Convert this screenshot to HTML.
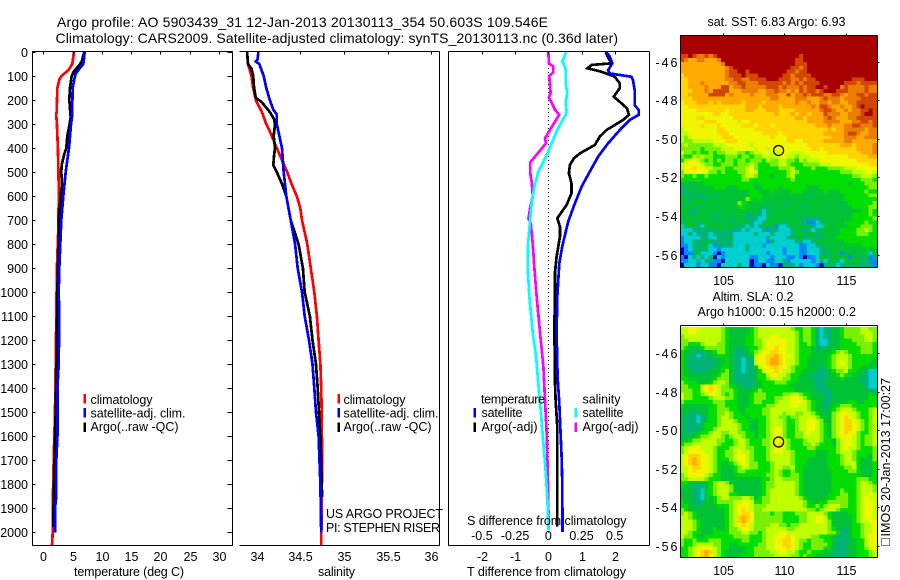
<!DOCTYPE html>
<html lang="en">
<head>
<meta charset="utf-8">
<title>Argo profile 5903439_31</title>
<style>
html,body{margin:0;padding:0;background:#fff;}
#chart{display:block;width:900px;height:580px;font-family:"Liberation Sans",sans-serif;fill:#000;}
#chart text{font-size:12.5px;}
</style>
</head>
<body>
<svg id="chart" xmlns="http://www.w3.org/2000/svg" width="900" height="580" viewBox="0 0 900 580"></svg>
<script>
/* ---------- depth ticks ---------- */
const depthTicks = [0,100,200,300,400,500,600,700,800,900,1000,1100,1200,1300,1400,1500,1600,1700,1800,1900,2000];
const tempTicks = [0,5,10,15,20,25,30];
const salTicks = [34,34.5,35,35.5,36];
const salTickLabels = ['34','34.5','35','35.5','36'];
const tDiffTicks = [-2,-1,0,1,2];
const sDiffTicks = [-0.5,-0.25,0,0.25,0.5];
const sDiffLabels = ['-0.5','-0.25','0','0.25','0.5'];
const lonTicks = [105,110,115];
const latTicks = [-46,-48,-50,-52,-54,-56];

/* ---------- temperature profiles ---------- */
const tempClimDepth = [0,50,75,100,115,150,250,260,300,400,500,600,750,900,1000,1200,1500,1700,1900,2000,2055];
const tempClimValue = [5.24,4.96,4.3,3.1,2.74,2.4,2.28,2.2,2.33,2.5,2.6,2.65,2.55,2.33,2.28,2.17,2.0,1.78,1.6,1.6,1.49];
const tempSatDepth = [0,50,70,90,120,150,270,300,400,450,500,600,700,800,900,1000,1100,1300,1400,1600,1700,1850,1900,2000];
const tempSatValue = [7.07,6.84,6.15,5.53,5.24,5.02,4.9,4.73,4.39,4.1,3.82,3.42,3.08,2.9,2.74,2.63,2.74,2.63,2.4,2.4,2.22,2.22,2.0,2.0];
const tempArgoDepth = [0,40,60,80,100,150,200,270,300,350,400,430,470,500,550,600,700,800,900,1000,1300,1500,1750,1950,1977];
const tempArgoValue = [7.0,6.55,5.98,5.24,4.85,4.56,4.44,4.68,4.5,4.1,3.93,3.54,3.14,3.08,3.19,2.97,2.63,2.63,2.5,2.4,2.28,2.12,1.88,1.71,1.71];

/* ---------- salinity profiles ---------- */
const salClimDepth = [0,50,100,150,200,250,300,330,400,450,500,550,600,650,700,800,900,1000,1100,1200,1300,1400,1500,1700,1900,2055];
const salClimValue = [33.89,33.9,33.94,33.96,33.99,34.06,34.11,34.15,34.23,34.29,34.35,34.4,34.46,34.5,34.52,34.58,34.62,34.66,34.69,34.71,34.73,34.74,34.745,34.75,34.745,34.74];
const salSatDepth = [0,30,40,50,100,150,200,240,260,300,400,500,600,700,800,900,1000,1100,1200,1300,1400,1500,1600,1700,1800,2000];
const salSatValue = [34.02,34.01,33.99,34.03,34.08,34.11,34.15,34.19,34.23,34.23,34.29,34.31,34.34,34.39,34.44,34.47,34.52,34.55,34.6,34.64,34.66,34.68,34.71,34.72,34.73,34.74];
const salArgoDepth = [0,50,70,100,150,190,210,250,280,300,350,400,430,470,500,550,600,700,800,900,1000,1100,1200,1300,1400,1500,1600,1853];
const salArgoValue = [33.89,33.9,33.94,33.96,33.97,33.99,34.06,34.15,34.2,34.21,34.195,34.21,34.2,34.19,34.23,34.29,34.34,34.39,34.48,34.53,34.55,34.61,34.64,34.68,34.7,34.715,34.73,34.75];

/* ---------- difference profiles ---------- */
const dTSatDepth = [0,19,47,75,89,103,117,158,221,241,262,283,325,380,436,498,561,630,706,810,880,1019,1171,1352,1463,1588,1685,1781,1999];
const dTSatValue = [1.75,1.85,1.93,1.8,1.85,2.5,2.55,2.6,2.6,2.72,2.72,2.45,2.15,1.8,1.5,1.25,1.0,0.8,0.6,0.42,0.33,0.27,0.25,0.28,0.33,0.37,0.4,0.42,0.43];
const dTArgoDepth = [0,47,54,68,82,103,130,151,186,207,235,262,283,325,352,387,422,443,470,505,547,588,637,692,727,769,852,921,1019,1171,1268,1365,1449,1560,1976];
const dTArgoValue = [1.72,1.9,1.3,1.18,1.6,2.0,2.15,2.15,1.97,2.15,2.37,2.43,2.25,1.75,1.55,1.4,0.95,0.77,0.65,0.62,0.7,0.7,0.55,0.27,0.35,0.35,0.25,0.2,0.2,0.18,0.2,0.2,0.22,0.27,0.27];
const dSSatDepth = [0,25,40,50,75,130,170,210,240,262,290,325,380,430,500,560,630,700,800,900,1020,1171,1268,1380,1490,1629,1727,1865,1990];
const dSSatValue = [0.132,0.117,0.105,0.117,0.132,0.132,0.142,0.132,0.137,0.132,0.1,0.067,0.025,-0.012,-0.075,-0.105,-0.125,-0.137,-0.152,-0.155,-0.142,-0.117,-0.092,-0.075,-0.057,-0.037,-0.022,-0.007,0.002];
const dSArgoDepth = [0,47,60,85,100,130,170,190,210,240,262,290,325,360,380,410,460,500,540,600,650,695,715,800,900,1020,1171,1310,1449,1588,1727,1865,1990];
const dSArgoValue = [0,0.005,0.037,0.037,0.007,0.012,0.017,0.005,0.025,0.05,0.082,0.05,0.012,-0.025,-0.017,-0.062,-0.137,-0.137,-0.125,-0.117,-0.137,-0.15,-0.132,-0.117,-0.105,-0.087,-0.062,-0.037,-0.025,-0.012,-0.005,0,0.002];

/* ---------- map grids: one letter per cell, a (coldest/lowest) to n (warmest/highest) ---------- */
const sstRows = [
"nnnnnn nnnnnn nnnnnn nnnnnn nnnnnn nnnnnn nnnnnn nnnnnn",
"nnnnnn nnnnnn nnnnnn nnnnnn nnnnnn nnnnnn nnnnnn nnnnnn",
"nnnnnn nnnnnn nnnnnn nnnnnn nnnnnn nnnnnn nnnnnn nnnnnn",
"nnnnnn nnnnnn nnnnnn nnnnnn nnnnnn nnnnnn nnnnnn nnnnnn",
"nnnnnn nnnnnn nnnnnn nnnnnn nnnnnn nnnnnn nnnnnn nnnnnn",
"mmnmll mlmnnn nnnnnn nnnnnn nnnnnm nnnnnn nnnnnn nnnnnn",
"mlkkll kkklnn nnnnnn nnnnnn nnnnmm nnnnnn nnnnnn nnnnnn",
"kkkkkk kkkkln nnnnnn nnnnnn nnnnmm mnnnnn nnnnnn nnnnnn",
"kkkkkk kkkkkl mnnnnn nnnnnn nnnmml mnnnnn nnnnnn nnnnnn",
"kkkkkk kkkkkl mmnnmn nnnnnn nnmmlm mnnnnn nnnnnn nnnnnn",
"jkkkkk kkkkkl mmmnmm mnnnnn nmmlmm mmnnnn nnnnnn nnnnnn",
"jjkkkk kkkkkl lmmllm mmmnnn mmmllm lmmnnn nnnnnn mmmnnn",
"jjkkkl kkkkkk llmmll lmmmmm mlmlml mmmmnn nnnnmm mlmmmm",
"jjkkkk lkkkmm kllmll lllmmm lmlllm lmmnnm nnnlml lllmll",
"jjjkkk lkmmmm kkklll lkkllm llklkm lmmlmn nnmmml lllmll",
"jjkkkk kmmmmk lkkkkl kkklll kkmkll mlmmml lmmlkl lmmlmm",
"jjjkkk kkkkkk kkkkkk kkkkll kkkkll lkkklm lllkll llmmmm",
"ijjjkk kjkjkk kkkjkk kkjkkk kkkklk klkkll kllkkl lmmmmm",
"iijjjj jjjjjj jjjjkk kjkkkk jkkkkk kklkmm lkklkk lmnmmm",
"iiiijj jjjjji jjjjkk jjjkkk jjjjkk kkkklm mlkklk llmmnm",
"iiiiii iijjii jjjjjj jjjjjk jjjkjk kjkkkm lllkkl llmnnm",
"iiiijj iiiiii ijjjjj jjjjjj jjjjkk jkkkkl mlkkkl lmmmmm",
"iiiiii jjjiii iijiij jjjjjj jjjjjj jkkkkl lllkkk llmmlm",
"iiiiij iiijii iiijjj ijjjij jjjjjj jjjkkk lkkkll mmlllm",
"hiiiii iiijji iiiiii jjjjjj jjjjjj jjjjjj kjkkll lllkll",
"hhiiii iiijjj iiiiii iijjjj ijjjjj jjjjjk kkkklm mlkkll",
"hghiii iiiijj jiiiii iiiiji iijjjj jjjjjj jkkkll lkklll",
"hgghhh hhiiij jjiiii iiiiii iijjii jjjjjk kkkkll kkkkkk",
"ghgggg gghhhi iiiiih iiiiii iiiiii ijjjjj jjjkkk jkkkkl",
"gggggf gggghh hiiiii hiihii iiiiii iijjij jjjjjj jkkkkl",
"hggfgf fgfggh hhggfg hhiihh iiihhh iiiiii jjjjjj jjkkkl",
"gffhgh ggfffg ggfggf gghhhh iihhgh hhiiii iiiiij jjjjkk",
"fhiihg fgfgfg gfggfg ggfhgg hhggfh ghhhii iiiiii ijjjjj",
"hiiiih ggffgg gfgggh gfffgg hhgfff gggghh hiiiii iiiijj",
"hiijii hhgggf fggghi gfffff ggghff ffgfff gggghh hiiiii",
"giiiii iggfgf ffgghi hfffff ffghgf ffffff fffggg hhhiih",
"gffgff gfffff fffghh gfffef ffghff ffffff ffffff gghhhg",
"ffffff ffffff fffggf ffffff fffgff ffffff ffffff ffgggf",
"dedeee ffffff ffffff efffff ffffff ffffff fffffe fffggg",
"deeeee eefffe eeffff eeffff efffff feeeff ffffff ffffgg",
"ddedee eeeeee eeeeef feeefe eeefff eeeeef eeefff fffgff",
"eededd eedeee eeeeef ffeeee eeeeee edeeee eeeeff ffffgg",
"eedeee deeeee eeeegf efeeee eeeeee eeeeee eeeeff ffffff",
"edeeee eeeeee eegfee eeeeee edeeee eeeeee eeeeef fffffg",
"eeeede eeeeee eeffee eedede eeeeee deeeee eeedee ffffgg",
"eeddee eeeede eeeeee edceee eeeeee eeeeee eeeeee eeffgf",
"eeedee edeeee eeeedd edcdee eeeeed eeeeee eeeeee ffffgf",
"eeeeee eeddee deeedd dcceee eeeeee ddddee eeeeee fffffg",
"deeede eeeeed edeeed ccdeee edeeed dbbcde eeeeff fffgff",
"ceeedc eeeeee eeddcd cdeeeb ccdeee eedcce eeeeef ffgggf",
"cccddd dddede dddcdc ccdbdd cccdee ddcdee eeefff fgghgf",
"ccdcdd dcdddd dccccc dcccdc cccdee deedee eeefff fgggff",
"bccccd dccdde dccccc cccdcc ccddee deddde eeffff ffffff",
"bccddd eddddd dccccc cccbdc ccccdd ccdeee eeeeff ffffff",
"bbcdde ecbddd dcccdc ccbccc cccccb bccdde eeeeee eeffff",
"abcddd dccbcc ccccdc cccccc cbcccb bcccdd eeeeee eeeeee",
"abbdec ccbabc cccccc cccbcc cbcccb bcccdd eeebee eeeece",
"bacdcd cdacbc cccccb bcccbc ccbbcb abbcee deeeeb eedebd",
"bbccdc ddbbac ccccca bccbbc cdbccc ccbcdc eedcee eedebb",
"acccbc cbbacc ccdcca bbacbb adddcb cccbad ddcddd dedddb"
];

const slaRows = [
"hhiiih hhhhgf eeeeef ghhhhh hhhgff ggfdcd deefgg gghhgg",
"hhiihh hhhhgf eeeeef ghhhhh hhhhgf ggfdcd deefgg gghhhg",
"ghhhhh hhhhgf eeeeff ghhhii hhhhgf ggfdcd deefgg ggghhg",
"gghhhh hhhhgf eeeeff gghiii iihhgf ggfdcc deefff ggghhg",
"ggfffg hhhggf eeeeff gghiii iihhgf fgfdcc deefff fggggf",
"gfeeef gggggf eedeef fghiij iihhgf ffeddd eeefff ffgggf",
"feeddd eefggf edddef ghiijj iihhgf ffeeee efghgf ffgggf",
"feddcd deeffe edddde hiijjk jiihgf ffeeee fghhhg ffffff",
"fedddd dddeef eddcdd hiijkk jihhgf feeeee fghhhg fffffe",
"fedddd dddeef eddcdd hiijkk jihhgf feeeee fghihg ffffee",
"fedddd ddeeff eddcdd ehiijj iihgff feeede fghhhg ffeeee",
"feeddd deeefg eddcdd efhiij ihhgff eeeddd efgghf feedcc",
"feeeee eeefgg eddddd effhii hhgffe eedddd eefgff eeedcc",
"ffeeee eefggg eddddd effghh hggffe eedddd eeefee eeddcc",
"gfffee efghhg eedddd eefffg ggffee eeedde eeeeee eeddcc",
"ggfffh ijihgg feeddd eeffff fffeee eeeddd eeeeee eeedcc",
"gggffh ijihgg gfeeee fgffff ffffee eeeddd deeeee eeeedd",
"hggffg hiihgf gfeeef gggfff fgghhg ffeeed deeeee eeeefe",
"hggfff fghhhg gfeeef gggffg ghhiih gfeeed deeeee eeeeff",
"gfffff ffgggf ffeeef ggfffg hhhiii hgfeed deeeef feefff",
"feeeee effggf ffeeef fffggh hhhiih hgfeed eefggg ffffff",
"eeeeee effggg ffeeff ffgghh hhhhhh hgfeed efghhh gfffgh",
"eeddde effggh gffeff ffgghh hghhgg hhgfee eghiih hgffgh",
"edddcd effghh gfffef fffghh ggfggh hhhgfe eghiji hgffgh",
"edddcd effghh hgfffe effghh hgffgh hiihge eghijj ihgfgh",
"edddde fffghh hhgffe effghh hgffgh hiihgf eghijj ihgfgh",
"edddde ffghhh hhgffe effghi igffgh hiihgf eghijj ihgfgh",
"eddeef fghhgg hhggff effghi igffgg hihhgf eghiji igffgh",
"eeeefg ghhhgf ghhgff effghi igffgg hhhhgf eghiii hgfggh",
"eefggh hhhggf fghhgf ffgghi ihgfff ghhhgf feghii hgfggh",
"fgghhh hhhgff fghhgf ffgghi jhgfff gghgff feghii hgfggh",
"ghiiih hhgfff ghhhgg fffghi ihgfff fggfff ffghih hgfffg",
"ghiiii hhgffg ghihhg fffghi ihhgff fffeee ffghhh gffffg",
"hijjji ihgffg ghiihg fffghh hhhgff fffeee fffghh gfffeg",
"hijkji ihgfff ghiihg fffghh hhhgff feeeee fffghh gfeeeg",
"hijkji ihgfee fghihg gfffgh hhhgff feeeee fffghh hfeeef",
"hhijji ihgfee efghhg gfffgh hgghff eeeeee ffffgg hfeeef",
"hhijii ihgfee efggff ffffgh gffgff eeeeee effffg gfeeef",
"ghiiii hgffee eeffff fffggh gffggf eeeeee efffff ffeeef",
"gghhhh gfffee eeeeee eeffgh hggggf eeeeee efffff fgggff",
"ffeeee efghhg eeeeee eefggh hhhhgf eeeeee efffff fghhgf",
"feeddd efghhh geeeee eefggh hhhhgf eeeeee efffff fghhhg",
"eeeddc efghhh geeeee eefghh hhhhgf eeeeee effgff fghhhg",
"eeeddc efghhh ffeeee eefghh hhhhgf eeeeee fffggf fghhih",
"eeeddc eefghh ggghhg efgghh hhhhhg feeeee ffgggf fghihh",
"feeddd eefggg ghhiih ffgghh hhhhhh gfeeff gggggf fghiih",
"ffeede eeefff ghiiih ggghhh hhhhhh gffgfg hhhggf fghiih",
"gfeeee eeeeef ghijih gghhhh hhhhhh hggfgh hhgfff fghiih",
"ghgfee eeeeef ghijji ggggfg gfffgg ghhhhg feeeef fghiih",
"hhgfee eeeeef ghjkji gggggg gffffg ghhiih feeeee fghiih",
"hhhgfe eeeeef ghjkji gggggg gffffg ghhiih geeeee fghhii",
"hhhgfe eeeeef ghijih gggghh ggfggh hhhhhh geeeee ffghhi",
"hhhgfe eefeef gghiih ggghhh hhgghh hhhhhh gfedde ffghhi",
"hhgffe eeffff ggghhg gfghhh iihhhh hhhhhh ggfdde ffghhi",
"hggfee ffffff fggggf ffghhi iijihh hhggff feddde ffghii",
"gffgff fgggff fffggf ffghhi ijjihg gfgggf feddde effhii",
"gffghh hhggff eeffff fgghhi ijjihg ffgggg feddde effhii",
"ffghii iihgff eeeeff ggghhi iijihg ffgggf feddde effghi",
"ffghij kjhgfe eeeeff gggghh iihhgf fgfffe edddde efffgh",
"ffghij kihgfe eeefff gggggh hhhggf gffeee edddde efffgh"
];

/* ---------- colour scale ---------- */
const levelColors = {a:'#0000b4',b:'#0088ff',c:'#00cfd0',d:'#00b478',e:'#00c234',f:'#00de00',g:'#78f000',h:'#c0ff00',i:'#f0f500',j:'#ffd400',k:'#ffaa00',l:'#eb7d00',m:'#d24600',n:'#a80000'};

/* ---------- axis functions ---------- */
function yDepth(d){return 52+0.2402*d;}
function xTemp(t){return 43.3+5.855*t;}
function xSal(s){return 256.7+87.2*(s-34);}
function xTDiff(t){return 548.3+33.2*t;}
function xSDiff(s){return xTDiff(s*4);}
function xLon(l){return 722.7+12.3*(l-105);}
function ySst(l){return 61.5+19.33*(-46-l);}
function ySla(l){return 353.4+19.25*(-46-l);}

const svg = document.getElementById('chart');
const NS = 'http://www.w3.org/2000/svg';

function makeEl(tag,name){
  const el = document.createElementNS(NS,tag);
  
  
  svg.appendChild(el);
  return el;
}
function seg(x1,y1,x2,y2,name,w){
  const el = makeEl('line',name);
  el.setAttribute('x1',x1);el.setAttribute('y1',y1);el.setAttribute('x2',x2);el.setAttribute('y2',y2);
  el.setAttribute('stroke','#000');el.setAttribute('stroke-width',w||1);el.setAttribute('shape-rendering','crispEdges');
  return el;
}
function box(x,y,w,h,color,name){
  const el = makeEl('rect',name);
  el.setAttribute('x',x);el.setAttribute('y',y);el.setAttribute('width',w);el.setAttribute('height',h);
  el.setAttribute('fill',color);el.setAttribute('shape-rendering','crispEdges');
  return el;
}
function txt(s,x,y,name,anchor,len){
  const el = makeEl('text',name);
  el.setAttribute('x',x);el.setAttribute('y',y);
  if(anchor) el.setAttribute('text-anchor',anchor);
  if(len) el.setAttribute('textLength',len);
  el.textContent = s;
  return el;
}
function profile(depths,values,xFn,color,name){
  const el = makeEl('polyline',name);
  const pts = depths.map(function(d,i){return xFn(values[i]).toFixed(1)+','+yDepth(d).toFixed(1);});
  el.setAttribute('points',pts.join(' '));
  el.setAttribute('fill','none');el.setAttribute('stroke',color);el.setAttribute('stroke-width',2.7);
  el.setAttribute('shape-rendering','crispEdges');el.setAttribute('stroke-linejoin','miter');
  return el;
}
function heatmap(rows,yFn,name){
  rows.forEach(function(row,r){
    const chars = row.replace(/[^a-n]/g,'');
    for(let c=0;c<chars.length;c++){
      const lonA = 101.53+c/3, lonB = lonA+1/3;
      const latA = -44.62-r*0.2, latB = latA-0.2;
      const cell = makeEl('rect',name);
      cell.setAttribute('x',xLon(lonA).toFixed(2));
      cell.setAttribute('y',yFn(latA).toFixed(2));
      cell.setAttribute('width',(xLon(lonB)-xLon(lonA)).toFixed(2));
      cell.setAttribute('height',(yFn(latB)-yFn(latA)).toFixed(2));
      cell.setAttribute('fill',levelColors[chars[c]]);
      cell.setAttribute('shape-rendering','crispEdges');
    }
  });
}

/* ---------- profile panels: series ---------- */
profile(tempClimDepth,tempClimValue,xTemp,'#ff0000','temperature-climatology-line');
profile(tempArgoDepth,tempArgoValue,xTemp,'#000000','temperature-argo-line');
profile(tempSatDepth,tempSatValue,xTemp,'#0000ff','temperature-satellite-line');

profile(salClimDepth,salClimValue,xSal,'#ff0000','salinity-climatology-line');
profile(salArgoDepth,salArgoValue,xSal,'#000000','salinity-argo-line');
profile(salSatDepth,salSatValue,xSal,'#0000ff','salinity-satellite-line');

const zeroLine = seg(xTDiff(0),yDepth(0),xTDiff(0),yDepth(2000),'zero-difference-line',1);
zeroLine.setAttribute('stroke-dasharray','1 3');
profile(dTArgoDepth,dTArgoValue,xTDiff,'#000000','t-diff-argo-line');
profile(dTSatDepth,dTSatValue,xTDiff,'#0000ff','t-diff-satellite-line');
profile(dSArgoDepth,dSArgoValue,xSDiff,'#ff00ff','s-diff-argo-line');
profile(dSSatDepth,dSSatValue,xSDiff,'#00ffff','s-diff-satellite-line');

/* ---------- profile panel frames ---------- */
seg(32.5,51.5,232.5,51.5,'temperature-top-axis');
seg(32.5,545.5,232.5,545.5,'temperature-bottom-axis');
seg(32.5,51.5,32.5,545.5,'temperature-left-axis');
seg(232.5,51.5,232.5,545.5,'temperature-right-axis');
seg(239.5,51.5,439.5,51.5,'salinity-top-axis');
seg(239.5,545.5,439.5,545.5,'salinity-bottom-axis');
seg(439.5,51.5,439.5,545.5,'salinity-right-axis');
seg(448.5,51.5,649.5,51.5,'difference-top-axis');
seg(448.5,545.5,649.5,545.5,'difference-bottom-axis');
seg(448.5,51.5,448.5,545.5,'difference-left-axis');
seg(649.5,51.5,649.5,545.5,'difference-right-axis');

depthTicks.forEach(function(d){
  const y = Math.round(yDepth(d))+0.5;
  seg(32.5,y,35.5,y,'depth-tick-left');
  seg(227.5,y,232.5,y,'depth-tick-right');
  txt(String(d),28,y+4.5,'depth-tick-label','end');
});
tempTicks.forEach(function(t){
  const x = Math.round(xTemp(t))+0.5;
  seg(x,51.5,x,54.5,'temperature-tick');
  txt(String(t),x,561,'temperature-tick-label','middle');
});
salTicks.forEach(function(s,i){
  const x = Math.round(xSal(s))+0.5;
  seg(x,51.5,x,54.5,'salinity-tick');
  txt(salTickLabels[i],x,561,'salinity-tick-label','middle');
});
tDiffTicks.forEach(function(t){
  const x = Math.round(xTDiff(t))+0.5;
  seg(x,51.5,x,54.5,'t-difference-tick');
  txt(String(t),x,561,'t-difference-tick-label','middle');
});
sDiffTicks.forEach(function(s,i){
  txt(sDiffLabels[i],xSDiff(s),540,'s-difference-tick-label','middle');
});

/* ---------- titles and axis labels ---------- */
const t1 = txt('Argo profile: AO 5903439_31 12-Jan-2013 20130113_354 50.603S 109.546E',57,27,'figure-title-line-1',null,491);
t1.style.fontSize='14px';
const t2 = txt('Climatology: CARS2009. Satellite-adjusted climatology: synTS_20130113.nc (0.36d later)',55.5,43,'figure-title-line-2',null,562.5);
t2.style.fontSize='14px';
txt('temperature (deg C)',74,576,'temperature-axis-title',null,110);
txt('salinity',318,576,'salinity-axis-title',null,37);
txt('T difference from climatology',467,576,'t-difference-axis-title',null,159);
txt('S difference from climatology',467,525,'s-difference-axis-title',null,159.5);

/* ---------- legends ---------- */
box(83.3,394,2.6,9.5,'#ff0000','legend-swatch-climatology');
box(83.3,408,2.6,9.5,'#0000ff','legend-swatch-satellite');
box(83.3,422.5,2.6,9.5,'#000000','legend-swatch-argo');
txt('climatology',90.5,404,'legend-label-climatology',null,62);
txt('satellite-adj. clim.',90.5,417.5,'legend-label-satellite',null,95);
txt('Argo(..raw -QC)',90.5,431,'legend-label-argo',null,88);

box(337.3,394,2.6,9.5,'#ff0000','legend-swatch-climatology');
box(337.3,408,2.6,9.5,'#0000ff','legend-swatch-satellite');
box(337.3,422.5,2.6,9.5,'#000000','legend-swatch-argo');
txt('climatology',343.5,404,'legend-label-climatology',null,62);
txt('satellite-adj. clim.',343.5,417.5,'legend-label-satellite',null,95);
txt('Argo(..raw -QC)',343.5,431,'legend-label-argo',null,88);

txt('US ARGO PROJECT',326,518,'project-label',null,117);
txt('PI: STEPHEN RISER',326,532,'investigator-label',null,114);

txt('temperature',481,403.5,'legend-heading-temperature',null,64);
box(473.3,408,2.6,9.5,'#0000ff','legend-swatch-t-satellite');
box(473.3,422.5,2.6,9.5,'#000000','legend-swatch-t-argo');
txt('satellite',481.5,417,'legend-label-t-satellite',null,41);
txt('Argo(-adj)',481.5,431,'legend-label-t-argo',null,56);
txt('salinity',582.5,403.5,'legend-heading-salinity',null,38);
box(574.5,408,2.6,9.5,'#00ffff','legend-swatch-s-satellite');
box(574.5,422.5,2.6,9.5,'#ff00ff','legend-swatch-s-argo');
txt('satellite',582.5,417,'legend-label-s-satellite',null,41);
txt('Argo(-adj)',582.5,431,'legend-label-s-argo',null,56);

/* ---------- maps ---------- */
heatmap(sstRows,ySst,'sst-map-cell');
heatmap(slaRows,ySla,'sla-map-cell');

function mapFrame(top,bottom,yFn,prefix){
  seg(680.5,top,877.5,top,prefix+'-map-top-axis');
  seg(680.5,bottom,877.5,bottom,prefix+'-map-bottom-axis');
  seg(680.5,top,680.5,bottom,prefix+'-map-left-axis');
  seg(877.5,top,877.5,bottom,prefix+'-map-right-axis');
  lonTicks.forEach(function(l){
    const x = Math.round(xLon(l))+0.5;
    seg(x,top-2,x,top,prefix+'-longitude-tick');
    txt(String(l),x,bottom+17.5,prefix+'-longitude-label','middle');
  });
  latTicks.forEach(function(l){
    const y = Math.round(yFn(l))+0.5;
    seg(877.5,y,879.5,y,prefix+'-latitude-tick');
    txt(String(l),655.5,y+4.5,prefix+'-latitude-label',null,22);
  });
}
mapFrame(35.5,267.5,ySst,'sst');
mapFrame(325.5,557.5,ySla,'sla');

const circleLon = 109.546;
const circleLat = -50.603;
[[ySst,'sst-profile-location'],[ySla,'sla-profile-location']].forEach(function(m){
  const c = makeEl('ellipse',m[1]);
  c.setAttribute('cx',xLon(circleLon));
  c.setAttribute('cy',m[0](circleLat));
  c.setAttribute('rx',5);c.setAttribute('ry',5);
  c.setAttribute('fill','none');c.setAttribute('stroke','#000');c.setAttribute('stroke-width',1.2);
});

txt('sat. SST: 6.83 Argo: 6.93',707.5,26,'sst-map-title',null,138);
txt('Altim. SLA: 0.2',712.5,301,'sla-map-title',null,81);
txt('Argo h1000: 0.15 h2000: 0.2',697.5,316,'sla-map-subtitle',null,158.5);

/* ---------- vertical stamp ---------- */
const stampBox = box(881.5,538.5,8,7,'none','imos-logo-box');
stampBox.setAttribute('stroke','#000');
stampBox.setAttribute('stroke-dasharray','1 1');
const stamp = txt('IMOS 20-Jan-2013 17:00:27',0,0,'imos-date-stamp',null,158.5);
stamp.setAttribute('transform','translate(890,536.5) rotate(-90)');
</script>
</body>
</html>
